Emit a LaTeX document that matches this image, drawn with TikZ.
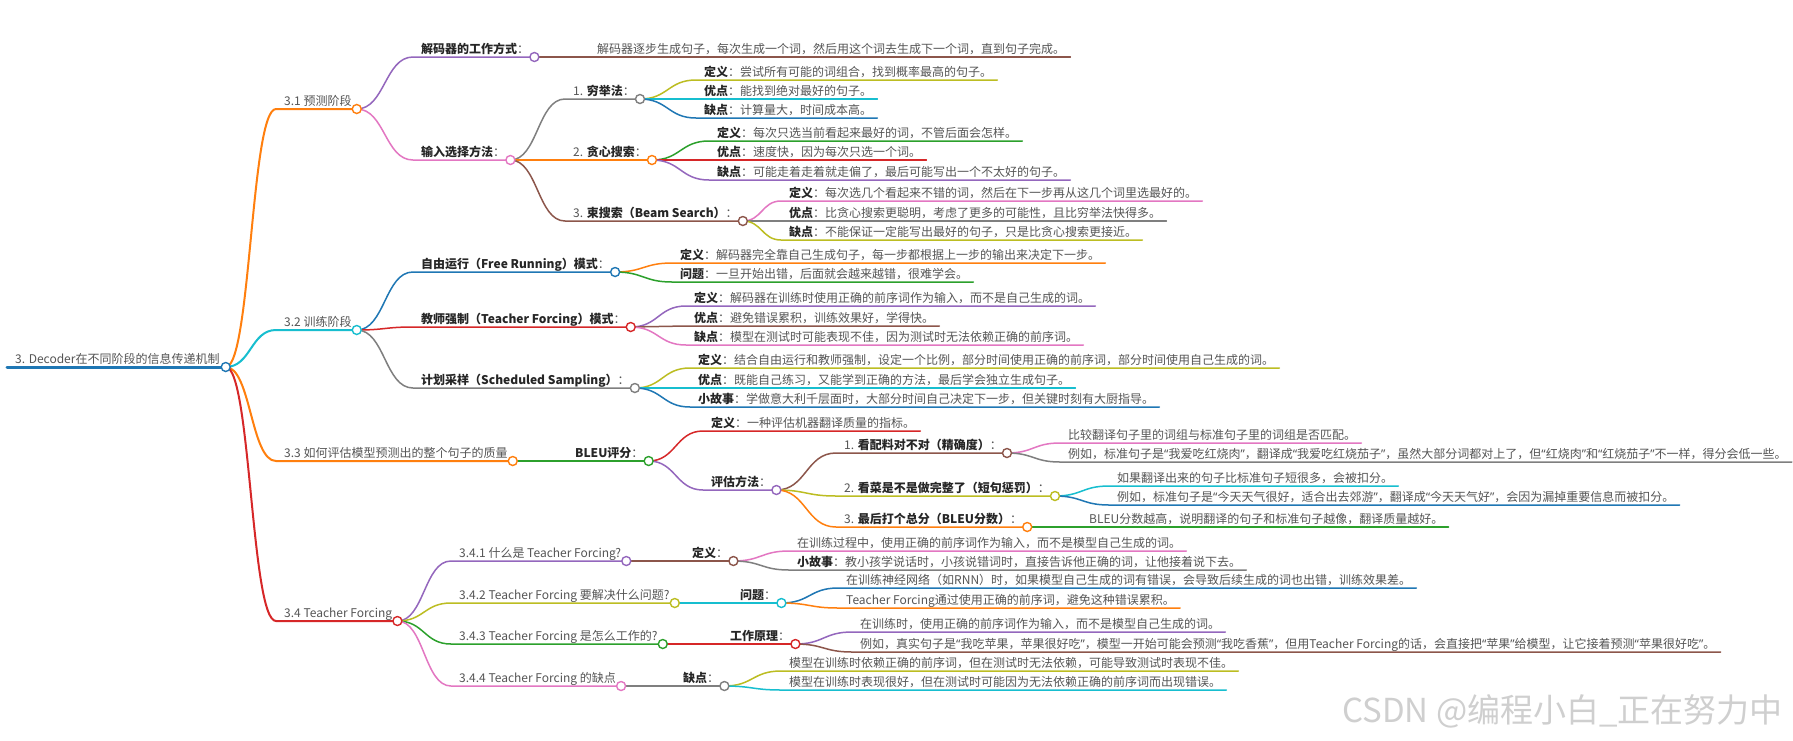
\documentclass[tikz,border=0pt]{standalone}
\usepackage{fontspec}
\setmainfont{Noto Sans CJK SC}
\newfontfamily\qfont{Noto Sans}
\usetikzlibrary{calc,backgrounds}
\definecolor{mblue}{HTML}{1F77B4}
\definecolor{morange}{HTML}{FF7F0E}
\definecolor{mgreen}{HTML}{2CA02C}
\definecolor{mred}{HTML}{D62728}
\definecolor{mpurple}{HTML}{9467BD}
\definecolor{mbrown}{HTML}{8C564B}
\definecolor{mpink}{HTML}{E377C2}
\definecolor{mgrey}{HTML}{7F7F7F}
\definecolor{molive}{HTML}{BCBD22}
\definecolor{mcyan}{HTML}{17BECF}
\definecolor{txtc}{HTML}{555555}
\definecolor{keyc}{HTML}{262626}
\definecolor{wmc}{HTML}{CFCFCF}
\newcommand\kw[1]{{\bfseries\color{keyc}#1}}
\newcommand\qo{{\qfont “}}
\newcommand\qc{{\qfont ”}}
\tikzset{
  branch/.style={to path={.. controls ($(\tikztostart)!.5!(\tikztotarget |- \tikztostart)$) and ($(\tikztotarget)!.5!(\tikztostart |- \tikztotarget)$) .. (\tikztotarget)}},
  txt/.style={anchor=base west, inner sep=0pt, text=txtc, font=\fontsize{12}{14}\selectfont},
  mmdot/.style={circle, draw=#1, fill=white, line width=1.4pt, minimum size=9pt, inner sep=0pt},
  mmlink/.style={draw=#1, line cap=round},
}
\newcommand\mmleaf[7]{%
  \coordinate (#1L) at (#4,#5);
  \node[txt] (#1) at ($(#1L)+(8,-4)$) {#7};
  \coordinate (#1R) at ($(#1.base east |- #1L)+(5,0)$);
  \begin{pgfonlayer}{background}
    \draw[mmlink=#3, line width=#6pt] (#2R) to[branch] (#1L) -- (#1R);
  \end{pgfonlayer}}
\newcommand\mmnode[7]{\mmleaf{#1}{#2}{#3}{#4}{#5}{#6}{#7}\node[mmdot=#3] (#1O) at (#1R) {};}
\begin{document}
\begin{tikzpicture}[x=1pt,y=-1pt]
\begin{pgfonlayer}{background}
\fill[white] (0,0) rectangle (1793,740);
\end{pgfonlayer}
\useasboundingbox (0,0) rectangle (1793,740);
% root
\coordinate (rL) at (7,367);
\node[txt] (r) at ($(rL)+(8,-4)$) {3. Decoder在不同阶段的信息传递机制};
\coordinate (rR) at ($(r.base east |- rL)+(6,0)$);
\begin{pgfonlayer}{background}
\draw[mmlink=mblue, line width=3pt] (rL) -- (rR);
\end{pgfonlayer}
\node[mmdot=mblue] (rO) at (rR) {};
% 3.1
\mmnode{s1}{r}{morange}{276}{109}{2}{3.1 预测阶段}
\mmnode{s1a}{s1}{mpurple}{413}{57}{1.5}{\kw{解码器的工作方式}：}
\mmleaf{s1a1}{s1a}{mbrown}{589}{57}{1.5}{解码器逐步生成句子，每次生成一个词，然后用这个词去生成下一个词，直到句子完成。}
\mmnode{s1b}{s1}{mpink}{413}{160}{1.5}{\kw{输入选择方法}：}
\mmnode{s1b1}{s1b}{mgrey}{565}{99}{1.5}{1. \kw{穷举法}：}
\mmleaf{s1b1a}{s1b1}{molive}{696}{80}{1.5}{\kw{定义}：尝试所有可能的词组合，找到概率最高的句子。}
\mmleaf{s1b1b}{s1b1}{mcyan}{696}{99}{1.5}{\kw{优点}：能找到绝对最好的句子。}
\mmleaf{s1b1c}{s1b1}{mblue}{696}{118}{1.5}{\kw{缺点}：计算量大，时间成本高。}
\mmnode{s1b2}{s1b}{morange}{565}{160}{1.5}{2. \kw{贪心搜索}：}
\mmleaf{s1b2a}{s1b2}{mgreen}{709}{141}{1.5}{\kw{定义}：每次只选当前看起来最好的词，不管后面会怎样。}
\mmleaf{s1b2b}{s1b2}{mred}{709}{160}{1.5}{\kw{优点}：速度快，因为每次只选一个词。}
\mmleaf{s1b2c}{s1b2}{mpurple}{709}{180}{1.5}{\kw{缺点}：可能走着走着就走偏了，最后可能写出一个不太好的句子。}
\mmnode{s1b3}{s1b}{mbrown}{565}{221}{1.5}{3. \kw{束搜索（Beam Search）}：}
\mmleaf{s1b3a}{s1b3}{mpink}{781}{201}{1.5}{\kw{定义}：每次选几个看起来不错的词，然后在下一步再从这几个词里选最好的。}
\mmleaf{s1b3b}{s1b3}{mgrey}{781}{221}{1.5}{\kw{优点}：比贪心搜索更聪明，考虑了更多的可能性，且比穷举法快得多。}
\mmleaf{s1b3c}{s1b3}{molive}{781}{240}{1.5}{\kw{缺点}：不能保证一定能写出最好的句子，只是比贪心搜索更接近。}
% 3.2
\mmnode{s2}{r}{mcyan}{276}{330}{2}{3.2 训练阶段}
\mmnode{s2a}{s2}{mblue}{413}{272}{1.5}{\kw{自由运行（Free Running）模式}：}
\mmleaf{s2a1}{s2a}{morange}{672}{263}{1.5}{\kw{定义}：解码器完全靠自己生成句子，每一步都根据上一步的输出来决定下一步。}
\mmleaf{s2a2}{s2a}{mgreen}{672}{282}{1.5}{\kw{问题}：一旦开始出错，后面就会越来越错，很难学会。}
\mmnode{s2b}{s2}{mred}{413}{327}{1.5}{\kw{教师强制（Teacher Forcing）模式}：}
\mmleaf{s2b1}{s2b}{mpurple}{686}{306}{1.5}{\kw{定义}：解码器在训练时使用正确的前序词作为输入，而不是自己生成的词。}
\mmleaf{s2b2}{s2b}{mbrown}{686}{326}{1.5}{\kw{优点}：避免错误累积，训练效果好，学得快。}
\mmleaf{s2b3}{s2b}{mpink}{686}{345}{1.5}{\kw{缺点}：模型在测试时可能表现不佳，因为测试时无法依赖正确的前序词。}
\mmnode{s2c}{s2}{mgrey}{413}{388}{1.5}{\kw{计划采样（Scheduled Sampling）}：}
\mmleaf{s2c1}{s2c}{molive}{690}{368}{1.5}{\kw{定义}：结合自由运行和教师强制，设定一个比例，部分时间使用正确的前序词，部分时间使用自己生成的词。}
\mmleaf{s2c2}{s2c}{mcyan}{690}{388}{1.5}{\kw{优点}：既能自己练习，又能学到正确的方法，最后学会独立生成句子。}
\mmleaf{s2c3}{s2c}{mblue}{690}{407}{1.5}{\kw{小故事}：学做意大利千层面时，大部分时间自己决定下一步，但关键时刻有大厨指导。}
% 3.3
\mmnode{s3}{r}{morange}{276}{461}{2}{3.3 如何评估模型预测出的整个句子的质量}
\mmnode{s3a}{s3}{mgreen}{567}{461}{1.5}{\kw{BLEU评分}：}
\mmleaf{s3a1}{s3a}{mred}{703}{431}{1.5}{\kw{定义}：一种评估机器翻译质量的指标。}
\mmnode{s3a2}{s3a}{mpurple}{703}{490}{1.5}{\kw{评估方法}：}
\mmnode{s3b1}{s3a2}{mbrown}{836}{453}{1.5}{1. \kw{看配料对不对（精确度）}：}
\mmleaf{s3b1a}{s3b1}{mpink}{1060}{443}{1.5}{比较翻译句子里的词组与标准句子里的词组是否匹配。}
\mmleaf{s3b1b}{s3b1}{mgrey}{1060}{462}{1.5}{例如，标准句子是\qo 我爱吃红烧肉\qc，翻译成\qo 我爱吃红烧茄子\qc，虽然大部分词都对上了，但\qo 红烧肉\qc 和\qo 红烧茄子\qc 不一样，得分会低一些。}
\mmnode{s3b2}{s3a2}{molive}{836}{496}{1.5}{2. \kw{看菜是不是做完整了（短句惩罚）}：}
\mmleaf{s3b2a}{s3b2}{mcyan}{1109}{486}{1.5}{如果翻译出来的句子比标准句子短很多，会被扣分。}
\mmleaf{s3b2b}{s3b2}{mblue}{1109}{505}{1.5}{例如，标准句子是\qo 今天天气很好，适合出去郊游\qc，翻译成\qo 今天天气好\qc，会因为漏掉重要信息而被扣分。}
\mmnode{s3b3}{s3a2}{morange}{836}{527}{1.5}{3. \kw{最后打个总分（BLEU分数）}：}
\mmleaf{s3b3a}{s3b3}{mgreen}{1081}{527}{1.5}{BLEU分数越高，说明翻译的句子和标准句子越像，翻译质量越好。}
% 3.4
\mmnode{s4}{r}{mred}{276}{621}{2}{3.4 Teacher Forcing}
\mmnode{s4a}{s4}{mpurple}{451}{561}{1.5}{3.4.1 什么是 Teacher Forcing?}
\mmnode{s4a1}{s4a}{mbrown}{684}{561}{1.5}{\kw{定义}：}
\mmleaf{s4a1a}{s4a1}{mpink}{789}{551}{1.5}{在训练过程中，使用正确的前序词作为输入，而不是模型自己生成的词。}
\mmleaf{s4a1b}{s4a1}{mgrey}{789}{570}{1.5}{\kw{小故事}：教小孩学说话时，小孩说错词时，直接告诉他正确的词，让他接着说下去。}
\mmnode{s4b}{s4}{molive}{451}{603}{1.5}{3.4.2 Teacher Forcing 要解决什么问题?}
\mmnode{s4b1}{s4b}{mcyan}{732}{603}{1.5}{\kw{问题}：}
\mmleaf{s4b1a}{s4b1}{mblue}{838}{588}{1.5}{在训练神经网络（如RNN）时，如果模型自己生成的词有错误，会导致后续生成的词也出错，训练效果差。}
\mmleaf{s4b1b}{s4b1}{morange}{838}{608}{1.5}{Teacher Forcing通过使用正确的前序词，避免这种错误累积。}
\mmnode{s4c}{s4}{mgreen}{451}{644}{1.5}{3.4.3 Teacher Forcing 是怎么工作的?}
\mmnode{s4c1}{s4c}{mred}{722}{644}{1.5}{\kw{工作原理}：}
\mmleaf{s4c1a}{s4c1}{mpurple}{852}{632}{1.5}{在训练时，使用正确的前序词作为输入，而不是模型自己生成的词。}
\mmleaf{s4c1b}{s4c1}{mbrown}{852}{652}{1.5}{例如，真实句子是\qo 我吃苹果，苹果很好吃\qc，模型一开始可能会预测\qo 我吃香蕉\qc，但用Teacher Forcing的话，会直接把\qo 苹果\qc 给模型，让它接着预测\qo 苹果很好吃\qc。}
\mmnode{s4d}{s4}{mpink}{451}{686}{1.5}{3.4.4 Teacher Forcing 的缺点}
\mmnode{s4d1}{s4d}{mgrey}{675}{686}{1.5}{\kw{缺点}：}
\mmleaf{s4d1a}{s4d1}{molive}{781}{671}{1.5}{模型在训练时依赖正确的前序词，但在测试时无法依赖，可能导致测试时表现不佳。}
\mmleaf{s4d1b}{s4d1}{mcyan}{781}{690}{1.5}{模型在训练时表现很好，但在测试时可能因为无法依赖正确的前序词而出现错误。}
% watermark
\node[anchor=base east, inner sep=0pt, text=wmc, font=\fontsize{33}{36}\selectfont] (wm) at (1783,722) {CSDN @编程小白\_正在努力中};
\end{tikzpicture}
\end{document}
